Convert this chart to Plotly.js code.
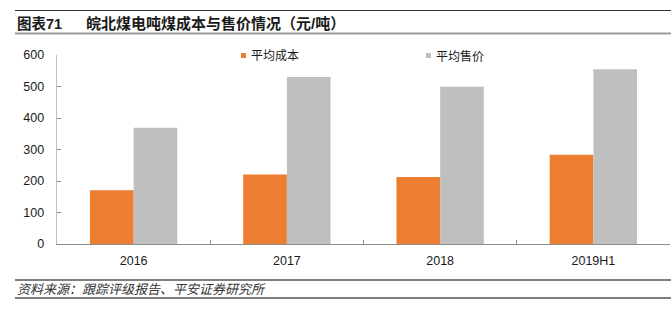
<!DOCTYPE html>
<html>
<head>
<meta charset="utf-8">
<script src="https://cdn.plot.ly/plotly-3.0.1.min.js"></script>
<style>html,body{margin:0;padding:0;background:#fff;}#chart{width:671px;height:323px;}</style>
</head>
<body>
<div id="chart"></div>
<script>
const categories = ['2016', '2017', '2018', '2019H1'];
const avgCost = [171, 221, 213, 283];
const avgPrice = [369, 530, 499, 555];
const seriesNames = ['平均成本', '平均售价'];
const seriesColors = ['#ED7D31', '#BFBFBF'];
const titleLabel = '图表71';
const titleText = '皖北煤电吨煤成本与售价情况（元/吨）';
const sourceText = '资料来源：跟踪评级报告、平安证券研究所';
const yTicks = [0, 100, 200, 300, 400, 500, 600];

const FONT = '"Liberation Sans", Arial, "Noto Sans CJK SC", sans-serif';
const L = 57, R = 1, T = 55, B = 79, W = 671, H = 323;
const pw = W - L - R, ph = H - T - B;
const px = x => (x - L) / pw;
const py = y => (H - B - y) / ph;

const traces = [avgCost, avgPrice].map((vals, i) => ({
  type: 'bar', x: categories, y: vals, name: seriesNames[i],
  marker: {color: seriesColors[i], line: {width: 0}}, hoverinfo: 'none'
}));

const shapes = [
  {type: 'line', xref: 'paper', yref: 'paper', x0: px(15), x1: px(671), y0: py(10.5), y1: py(10.5), line: {color: '#333', width: 1}},
  {type: 'line', xref: 'paper', yref: 'paper', x0: px(15), x1: px(671), y0: py(33.5), y1: py(33.5), line: {color: '#9a9a9a', width: 2}},
  {type: 'line', xref: 'paper', yref: 'paper', x0: px(15), x1: px(671), y0: py(280), y1: py(280), line: {color: '#555', width: 1.3}},
  {type: 'line', xref: 'paper', yref: 'paper', x0: px(15), x1: px(671), y0: py(298), y1: py(298), line: {color: '#555', width: 1.3}}
];
const legendX = [241, 426];
const annotations = [
  {xref: 'paper', yref: 'paper', x: px(15), y: py(23.5), xanchor: 'left', yanchor: 'middle', showarrow: false,
   text: '<b>' + titleLabel + '</b>', font: {family: FONT, size: 14.5, color: '#1a1a1a'}},
  {xref: 'paper', yref: 'paper', x: px(84), y: py(23.5), xanchor: 'left', yanchor: 'middle', showarrow: false,
   text: '<b>' + titleText + '</b>', font: {family: FONT, size: 15, color: '#1a1a1a'}},
  {xref: 'paper', yref: 'paper', x: px(15), y: py(289), xanchor: 'left', yanchor: 'middle', showarrow: false,
   text: '<i>' + sourceText + '</i>', font: {family: FONT, size: 13, color: '#333'}}
];
seriesNames.forEach((n, i) => {
  shapes.push({type: 'rect', xref: 'paper', yref: 'paper', x0: px(legendX[i]), x1: px(legendX[i] + 5), y0: py(53), y1: py(58),
    fillcolor: seriesColors[i], line: {width: 0}});
  annotations.push({xref: 'paper', yref: 'paper', x: px(legendX[i] + 8), y: py(56), xanchor: 'left', yanchor: 'middle', showarrow: false,
    text: n, font: {family: FONT, size: 12, color: '#1a1a1a'}});
});

const layout = {
  width: W, height: H,
  margin: {l: L, r: R, t: T, b: B, pad: 0},
  paper_bgcolor: '#fff', plot_bgcolor: '#fff',
  showlegend: false,
  barmode: 'group', bargap: 0.43, bargroupgap: 0,
  font: {family: FONT, size: 12, color: '#1a1a1a'},
  xaxis: {
    type: 'category', range: [-0.5, 3.5], showgrid: false, zeroline: false,
    showline: true, linecolor: '#8c8c8c', linewidth: 1,
    ticks: 'inside', tickson: 'boundaries', ticklen: 4, tickcolor: '#8c8c8c',
    ticklabelstandoff: 5, tickfont: {family: FONT, size: 12.5, color: '#1a1a1a'}
  },
  yaxis: {
    range: [0, 600], tickvals: yTicks, showgrid: false, zeroline: false,
    showline: true, linecolor: '#bfbfbf', linewidth: 1.3,
    ticks: 'inside', ticklen: 4, tickcolor: '#8c8c8c',
    ticklabelstandoff: 9, tickfont: {family: FONT, size: 12.5, color: '#1a1a1a'}
  },
  shapes: shapes,
  annotations: annotations
};

Plotly.newPlot('chart', traces, layout, {staticPlot: true, displayModeBar: false});
</script>
</body>
</html>
